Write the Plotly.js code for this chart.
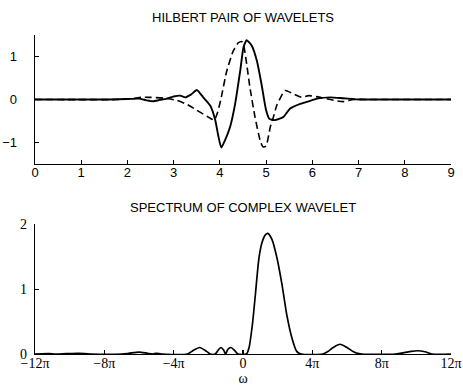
<!DOCTYPE html>
<html>
<head>
<meta charset="utf-8">
<script src="https://cdn.plot.ly/plotly-3.0.1.min.js"></script>
<style>html,body{margin:0;padding:0;background:#fff;}#chart{width:463px;height:389px;}</style>
</head>
<body>
<div id="chart"></div>
<script>
// Top panel: Hilbert pair of wavelets
const waveRealX = [0, 1.6, 2.0, 2.25, 2.42, 2.55, 2.7, 2.85, 3.0, 3.14, 3.25, 3.38, 3.5, 3.64, 3.79, 3.9, 3.97, 4.03, 4.11, 4.22, 4.33, 4.44, 4.51, 4.58, 4.69, 4.8, 4.9, 5.0, 5.07, 5.19, 5.37, 5.52, 5.74, 5.9, 6.1, 6.39, 6.67, 7.03, 7.3, 9];
const waveRealY = [0, 0, 0.01, 0.02, -0.02, -0.04, -0.01, 0.02, 0.07, 0.09, 0.05, 0.12, 0.22, 0.05, -0.14, -0.48, -0.87, -1.12, -0.95, -0.64, -0.1, 0.67, 1.21, 1.38, 1.25, 0.9, 0.36, -0.25, -0.45, -0.48, -0.41, -0.21, -0.1, -0.05, 0.02, 0.05, 0.03, 0, 0, 0];
const waveImagX = [0, 1.8, 2.1, 2.3, 2.5, 2.8, 3.07, 3.3, 3.5, 3.75, 3.88, 3.95, 4.02, 4.15, 4.29, 4.4, 4.47, 4.51, 4.58, 4.65, 4.76, 4.87, 4.93, 5.0, 5.09, 5.16, 5.23, 5.41, 5.59, 5.77, 5.92, 6.17, 6.46, 6.67, 6.89, 7.2, 9];
const waveImagY = [0, 0, 0.02, 0.05, 0.05, 0.03, -0.02, -0.12, -0.25, -0.41, -0.48, -0.3, 0.0, 0.67, 1.13, 1.32, 1.35, 1.29, 0.82, 0.28, -0.41, -0.95, -1.1, -1.08, -0.64, -0.4, -0.14, 0.21, 0.13, 0.05, 0.09, 0.05, -0.02, -0.05, 0, 0, 0];
const topXTicks = [0, 1, 2, 3, 4, 5, 6, 7, 8, 9];
const topYTicks = [-1, 0, 1];

// Bottom panel: spectrum (omega in units of pi)
const omegaPi = [-12, -11.6, -11.2, -10.8, -10.2, -9.5, -8.8, -7.0, -6.6, -6.0, -5.5, -5.2, -5.0, -4.7, -3.2, -2.9, -2.5, -2.1, -1.9, -1.6, -1.4, -1.27, -1.12, -1.0, -0.88, -0.7, -0.5, -0.3, 0.2, 0.35, 0.54, 0.73, 0.92, 1.11, 1.3, 1.43, 1.68, 1.96, 2.25, 2.53, 2.82, 3.1, 3.35, 4.6, 4.9, 5.2, 5.6, 6.0, 6.4, 6.85, 8.8, 9.3, 9.7, 10.06, 10.5, 10.9, 12];
const spectrum = [0, 0.004, 0.006, 0, 0.005, 0.01, 0, 0, 0.01, 0.03, 0.01, 0, 0.01, 0, 0, 0.05, 0.1, 0.04, 0, 0, 0.07, 0.1, 0.06, 0, 0.07, 0.1, 0.06, 0, 0, 0.1, 0.45, 0.96, 1.48, 1.73, 1.84, 1.86, 1.76, 1.48, 1.07, 0.6, 0.25, 0.04, 0, 0, 0.04, 0.1, 0.15, 0.1, 0.03, 0, 0, 0.02, 0.04, 0.05, 0.035, 0, 0];
const botXTicks = [-12, -8, -4, 0, 4, 8, 12];
const botXLabels = ["\u221212\u03c0", "\u22128\u03c0", "\u22124\u03c0", "0", "4\u03c0", "8\u03c0", "12\u03c0"];
const botYTicks = [0, 1, 2];

const sans = "Liberation Sans, Arial, Helvetica, sans-serif";
const serif = "Liberation Serif, Times New Roman, serif";

const traces = [
  {x: waveImagX, y: waveImagY, xaxis: "x", yaxis: "y", mode: "lines",
   line: {color: "#000", width: 1.6, dash: "7px,4px", shape: "spline", smoothing: 0.5}},
  {x: waveRealX, y: waveRealY, xaxis: "x", yaxis: "y", mode: "lines",
   line: {color: "#000", width: 1.9, shape: "spline", smoothing: 0.5}},
  {x: omegaPi, y: spectrum, xaxis: "x2", yaxis: "y2", mode: "lines",
   line: {color: "#000", width: 1.7, shape: "spline", smoothing: 0.7}}
];

const axBase = {showgrid: false, zeroline: false, showline: true, linecolor: "#000", linewidth: 1.3,
  ticks: "inside", ticklen: 4, tickwidth: 1.2, tickcolor: "#000", mirror: false, fixedrange: true};

const layout = {
  width: 463, height: 389,
  margin: {l: 35, r: 12, t: 35, b: 35, pad: 0},
  paper_bgcolor: "#fff", plot_bgcolor: "#fff",
  showlegend: false,
  xaxis: Object.assign({}, axBase, {domain: [0, 1], range: [0, 9], anchor: "y",
    tickmode: "array", tickvals: topXTicks, ticklabelstandoff: -4, tickfont: {family: sans, size: 13, color: "#000"}}),
  yaxis: Object.assign({}, axBase, {domain: [0.5956, 1], range: [-1.5, 1.5], anchor: "x",
    tickmode: "array", tickvals: topYTicks, ticklabelstandoff: 14, tickfont: {family: sans, size: 13, color: "#000"}}),
  xaxis2: Object.assign({}, axBase, {domain: [0, 1], range: [-12, 12], anchor: "y2",
    tickmode: "array", tickvals: botXTicks, ticktext: botXLabels, ticklabelstandoff: -4, tickfont: {family: serif, size: 14, color: "#000"},
    title: {text: "\u03c9", font: {family: serif, size: 14, color: "#000"}, standoff: 0}}),
  yaxis2: Object.assign({}, axBase, {domain: [0, 0.4066], range: [0, 2], anchor: "x2",
    tickmode: "array", tickvals: botYTicks, ticklabelstandoff: 4, tickfont: {family: serif, size: 14, color: "#000"}}),
  annotations: [
    {text: "HILBERT PAIR OF WAVELETS", xref: "paper", yref: "paper", x: 0.5, y: 1.0564,
     xanchor: "center", yanchor: "middle", showarrow: false, font: {family: sans, size: 13, color: "#000"}},
    {text: "SPECTRUM OF COMPLEX WAVELET", xref: "paper", yref: "paper", x: 0.5, y: 0.4577,
     xanchor: "center", yanchor: "middle", showarrow: false, font: {family: sans, size: 13, color: "#000"}}
  ]
};

Plotly.newPlot("chart", traces, layout, {staticPlot: true, displayModeBar: false});
</script>
</body>
</html>
